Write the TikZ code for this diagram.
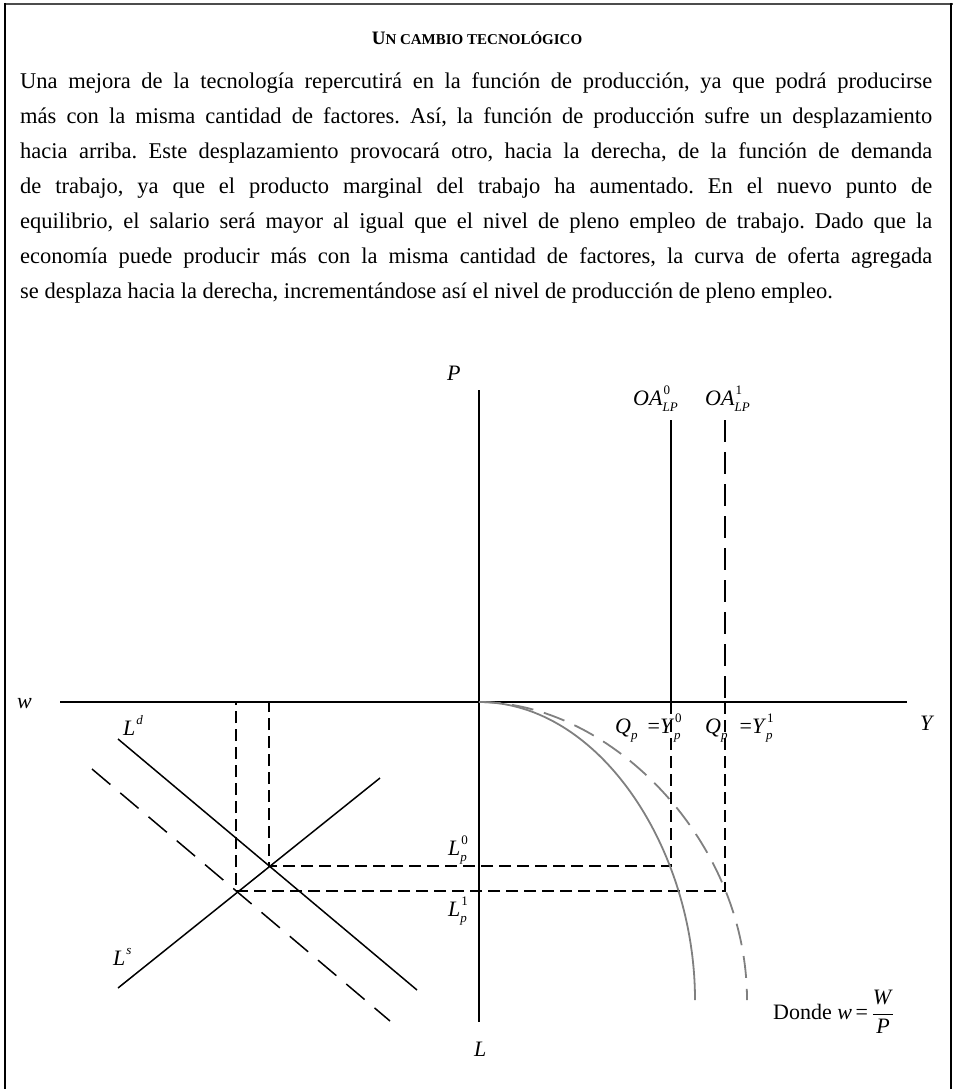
\documentclass[tikz,border=0pt]{standalone}
\usepackage{fontspec}
\setmainfont{Liberation Serif}
\usetikzlibrary{positioning}
\frenchspacing

\tikzset{
  axisline/.style={black,line width=1.3pt},
  schedule/.style={black,line width=1.5pt},
  guide/.style={black,line width=1.1pt,dash pattern=on 12pt off 6pt},
  longdash/.style={dash pattern=on 24pt off 13pt},
  prodcurve/.style={black!50,line width=1.8pt},
  lbl/.style={anchor=base west,inner sep=0pt,font=\fontsize{22}{24}\selectfont},
}
% base, subindice, superindice
\newcommand{\lab}[3]{\textit{#1}\makebox[0pt][l]{\raisebox{0.5em}{\fontsize{13}{13}\selectfont\kern1pt #3}}%
  \raisebox{-0.3em}{\fontsize{13}{13}\selectfont\textit{#2}}}

\begin{document}
\begin{tikzpicture}[x=1pt,y=-1pt]
  \useasboundingbox (0,0) rectangle (953,1089);
  % marco
  \draw[black!70,line width=2.2pt] (4,4) -- (953,4);
  \draw[line width=1.6pt] (5,3) -- (5,1089);
  \draw[line width=1.6pt] (951,3) -- (951,1089);

  \node[anchor=base,inner sep=0pt,font=\bfseries] (titulo) at (477,45)
    {{\fontsize{19}{20}\selectfont U}{\fontsize{15}{16}\selectfont N CAMBIO TECNOLÓGICO}};
  \node[anchor=north west,inner sep=0pt,text width=912pt,align=justify,
        font=\fontsize{22.5}{35}\selectfont] (texto) at (20,72)
    {Una mejora de la tecnología repercutirá en la función de producción, ya que podrá producirse\linebreak
     más con la misma cantidad de factores. Así, la función de producción sufre un desplazamiento\linebreak
     hacia arriba. Este desplazamiento provocará otro, hacia la derecha, de la función de demanda\linebreak
     de trabajo, ya que el producto marginal del trabajo ha aumentado. En el nuevo punto de\linebreak
     equilibrio, el salario será mayor al igual que el nivel de pleno empleo de trabajo. Dado que la\linebreak
     economía puede producir más con la misma cantidad de factores, la curva de oferta agregada\linebreak
     se desplaza hacia la derecha, incrementándose así el nivel de producción de pleno empleo.};

  % ejes
  \coordinate (O) at (479,702);
  \coordinate (ytop) at (479,390);
  \coordinate (ybot) at (479,1022);
  \coordinate (xleft) at (60,702);
  \coordinate (xright) at (907,702);
  \draw[axisline] (ytop) -- (ybot);
  \draw[axisline] (xleft) -- (xright);

  % equilibrios
  \coordinate (E0) at (269,866);
  \coordinate (E1) at (236,891);
  \coordinate (Q0) at (671,866);
  \coordinate (Q1) at (725,891);
  \coordinate (oa0) at (671,420);
  \coordinate (oa1) at (725,420);
  \draw[schedule] (oa0) -- (oa0 |- O);
  \draw[schedule,dash pattern=on 22pt off 10pt] (oa1) -- (oa1 |- O);
  \draw[guide] (oa0 |- O) -- (Q0) -- (E0) -- (E0 |- O);
  \draw[guide] (oa1 |- O) -- (Q1) -- (E1) -- (E1 |- O);

  % mercado de trabajo
  \coordinate (ld-a) at (118,739);  \coordinate (ld-b) at (417,990);
  \coordinate (ld1-a) at (92,769);  \coordinate (ld1-b) at (390,1021);
  \coordinate (ls-a) at (118,988);  \coordinate (ls-b) at (380,778);
  \draw[schedule] (ld-a) -- (ld-b);
  \draw[schedule,longdash] (ld1-a) -- (ld1-b);
  \draw[schedule] (ls-a) -- (ls-b);

  % funcion de produccion
  \coordinate (f0) at (695,1000);
  \coordinate (f1) at (747,1000);
  \draw[prodcurve] (O) .. controls (600,702) and (695,850) .. (f0);
  \draw[prodcurve,dash pattern=on 22pt off 11pt] (O) .. controls (610,702) and (747,840) .. (f1);

  % etiquetas
  \node[lbl] (lP) at (447,380) {\textit{P}};
  \node[lbl] (lL) at (474,1056) {\textit{L}};
  \node[lbl] (lw) at (17,708) {\textit{w}};
  \node[lbl] (lY) at (920,730) {\textit{Y}};
  \node[lbl] (loa0) at (633,405) {\lab{OA}{LP}{0}};
  \node[lbl] (loa1) at (705,405) {\lab{OA}{LP}{1}};
  \node[lbl] (lLd) at (123,735) {\lab{L}{}{\textit{d}}};
  \node[lbl] (lLs) at (113,965) {\lab{L}{}{\textit{s}}};
  \node[lbl] (lLp0) at (448,855) {\lab{L}{p}{0}};
  \node[lbl] (lLp1) at (448,916) {\lab{L}{p}{1}};
  \node[lbl] (lq0) at (615,733) {\lab{Q}{p}{}\hspace{10pt}=\lab{Y}{p}{0}};
  \node[lbl] (lq1) at (705,733) {\lab{Q}{p}{}\hspace{12pt}=\lab{Y}{p}{1}};
  \node[lbl] (donde) at (773,1019)
    {Donde \textit{w}\,=\,$\displaystyle\frac{\mbox{\textit{W}}}{\mbox{\textit{P}}}$};
\end{tikzpicture}
\end{document}
